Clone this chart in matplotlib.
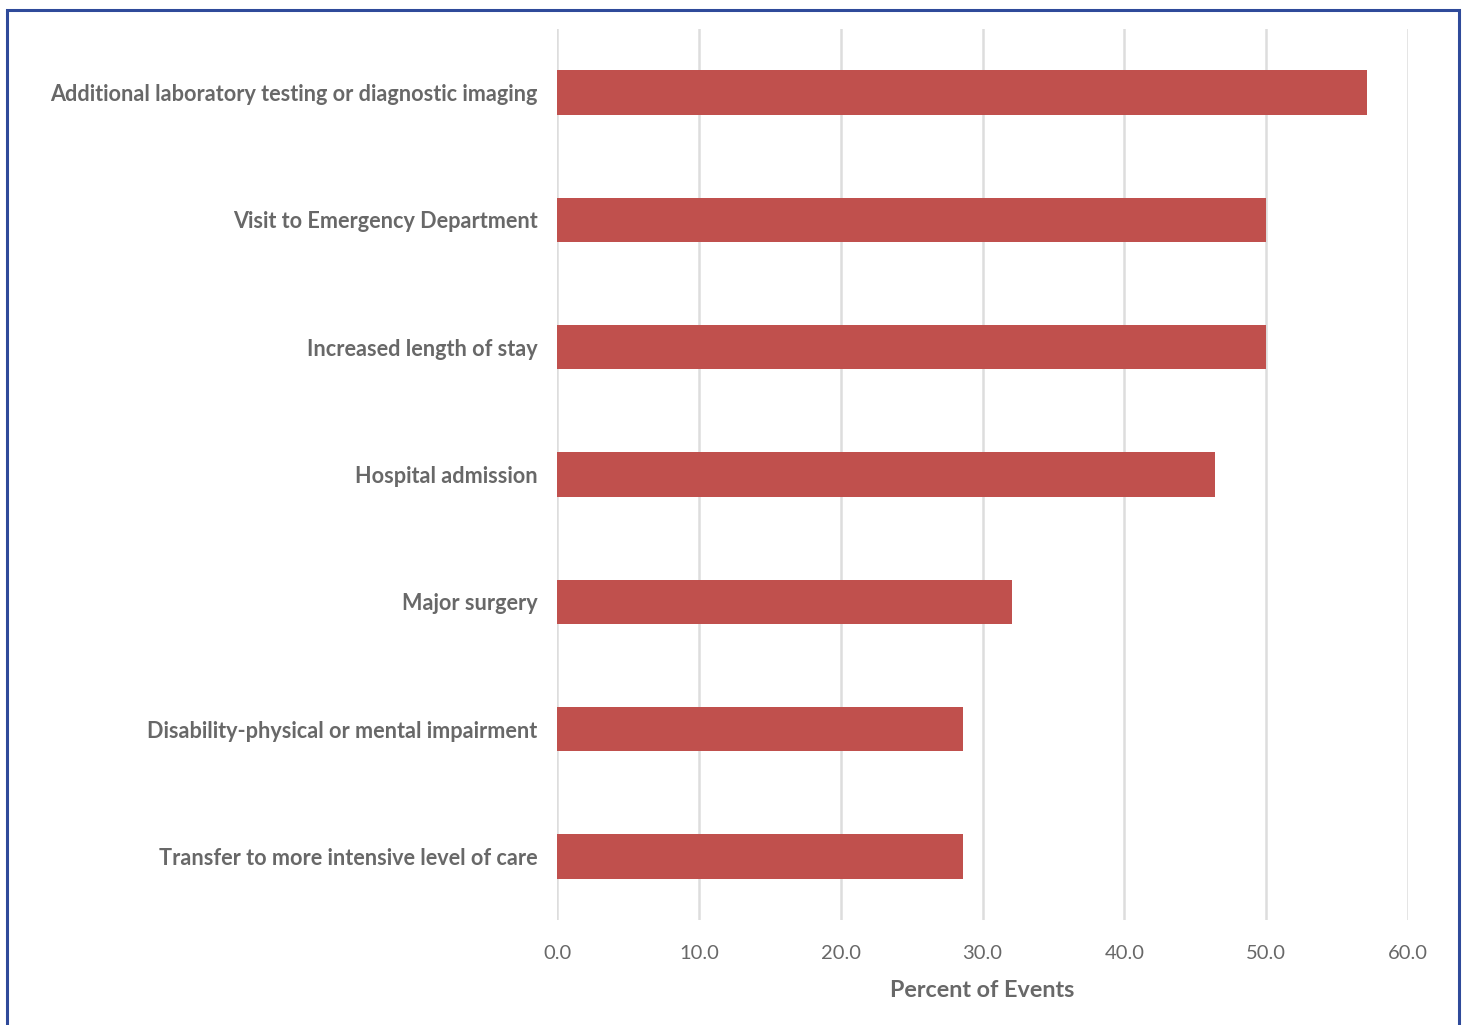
import matplotlib.pyplot as plt
from matplotlib.patches import Rectangle

categories = [
    "Additional laboratory testing or diagnostic imaging",
    "Visit to Emergency Department",
    "Increased length of stay",
    "Hospital admission",
    "Major surgery",
    "Disability-physical or mental impairment",
    "Transfer to more intensive level of care",
]
percent = [57.1, 50.0, 50.0, 46.4, 32.1, 28.6, 28.6]
xticks = [0, 10, 20, 30, 40, 50, 60]

W, H = 1463, 1025
plt.rcParams['font.family'] = ['Lato', 'DejaVu Sans']
txt = "#686868"

fig = plt.figure(figsize=(W / 100, H / 100), dpi=100)
ax = fig.add_axes([557 / W, 1 - 920 / H, (1408 - 557) / W, (920 - 29) / H])

ypos = list(range(len(categories)))
ax.barh(ypos, percent, height=0.35, color="#C0504D", zorder=3)
ax.set_ylim(len(categories) - 0.5, -0.5)
ax.set_xlim(0, 60)
ax.set_xticks(xticks)
ax.set_xticklabels([f"{v:.1f}" for v in xticks], fontsize=14.5, color=txt)
ax.set_yticks(ypos)
ax.set_yticklabels(categories, fontsize=15.6, fontweight="bold", color=txt)
ax.tick_params(axis="both", length=0)
ax.tick_params(axis="x", pad=18)
ax.tick_params(axis="y", pad=14)
ax.grid(axis="x", color="#DDDDDD", linewidth=1.8, zorder=0)
for s in ax.spines.values():
    s.set_visible(False)
ax.set_xlabel("Percent of Events", fontsize=16.8, fontweight="bold", color=txt, labelpad=13)

# blue frame round the chart
fig.patches.append(Rectangle((7 / W, -0.05), (1459 - 7) / W, 1 - 10 / H + 0.05,
                             transform=fig.transFigure, fill=False,
                             edgecolor="#2F4A9A", linewidth=2.2))

fig.savefig("out.png", dpi=100)
